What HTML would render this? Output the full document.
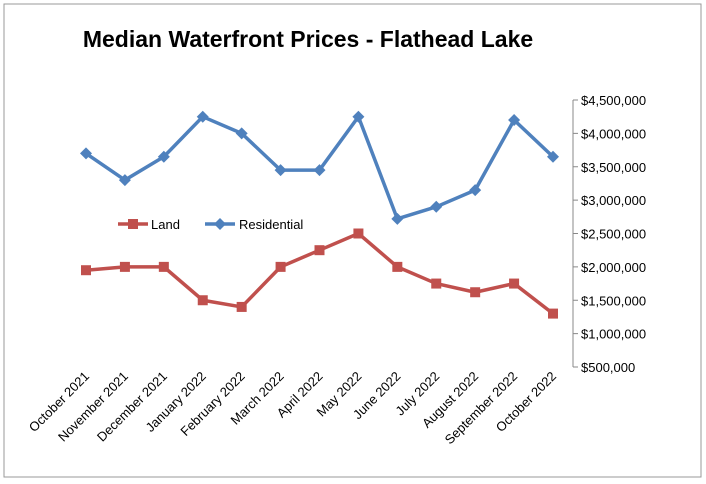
<!DOCTYPE html>
<html><head><meta charset="utf-8"><style>
body{margin:0;background:#fff;}
svg{display:block;font-family:"Liberation Sans",sans-serif;}
</style></head><body>
<svg id="c" width="706" height="484">
<rect x="4" y="4" width="697" height="473" fill="#fff" stroke="#999" stroke-width="1"/>
<text x="308" y="47" text-anchor="middle" font-size="23" font-weight="bold" fill="#000">Median Waterfront Prices - Flathead Lake</text>
</svg>
<script>
const categories=["October 2021","November 2021","December 2021","January 2022","February 2022","March 2022","April 2022","May 2022","June 2022","July 2022","August 2022","September 2022","October 2022"];
const residential=[3700000,3300000,3650000,4250000,4000000,3450000,3450000,4250000,2720000,2900000,3150000,4200000,3650000];
const land=[1950000,2000000,2000000,1500000,1400000,2000000,2250000,2500000,2000000,1750000,1620000,1750000,1300000];
const ticks=[500000,1000000,1500000,2000000,2500000,3000000,3500000,4000000,4500000];
const tickLabels=["$500,000","$1,000,000","$1,500,000","$2,000,000","$2,500,000","$3,000,000","$3,500,000","$4,000,000","$4,500,000"];
const NS="http://www.w3.org/2000/svg",svg=document.getElementById('c');
const x0=86,x1=553,yTop=100,yBot=367,vMin=500000,vMax=4500000,axX=573;
const X=i=>x0+(x1-x0)*i/(categories.length-1);
const Y=v=>yBot-(v-vMin)/(vMax-vMin)*(yBot-yTop);
function mk(t,a){const e=document.createElementNS(NS,t);for(const k in a)e.setAttribute(k,a[k]);svg.appendChild(e);return e;}
let ax=mk('line',{x1:axX,y1:yTop,x2:axX,y2:yBot,stroke:'#888'});


ticks.forEach((v,i)=>{
 let t=mk('line',{x1:axX,y1:Y(v),x2:axX+5,y2:Y(v),stroke:'#888'});
 
 
 let l=mk('text',{x:axX+8,y:Y(v)+5,'font-size':13,fill:'#000'});l.textContent=tickLabels[i];
 
 
});
categories.forEach((c,i)=>{
 let l=mk('text',{x:X(i)+4,y:yBot+10,'font-size':13,'text-anchor':'end',transform:`rotate(-45 ${X(i)+4} ${yBot+10})`});l.textContent=c;
 
 
});
function series(vals,color,name,marker){
 let p=mk('polyline',{points:vals.map((v,i)=>X(i)+','+Y(v)).join(' '),fill:'none',stroke:color,'stroke-width':3.5,'stroke-linejoin':'round'});
 
 
 vals.forEach((v,i)=>{
  let m=marker(X(i),Y(v));
  
  
 });
}
const sq=(x,y)=>mk('rect',{x:x-5,y:y-5,width:10,height:10,fill:'#C0504D'});
const dm=(x,y)=>mk('polygon',{points:`${x},${y-6} ${x+6},${y} ${x},${y+6} ${x-6},${y}`,fill:'#4F81BD'});
series(residential,'#4F81BD','residential',dm);
series(land,'#C0504D','land',sq);
// legend
let g1=mk('line',{x1:118,y1:224,x2:148,y2:224,stroke:'#C0504D','stroke-width':3.5});


let g1m=sq(133,224);


let t1=mk('text',{x:151,y:229,'font-size':13});t1.textContent='Land';


let g2=mk('line',{x1:205,y1:224,x2:235,y2:224,stroke:'#4F81BD','stroke-width':3.5});


let g2m=dm(220,224);


let t2=mk('text',{x:239,y:229,'font-size':13});t2.textContent='Residential';


</script>
</body></html>
